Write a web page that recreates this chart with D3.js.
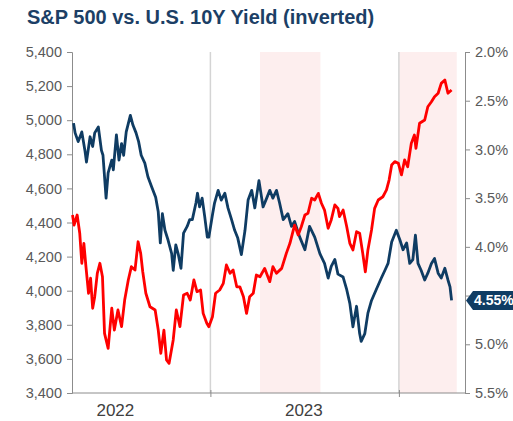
<!DOCTYPE html>
<html>
<head>
<meta charset="utf-8">
<title>S&amp;P 500 vs. U.S. 10Y Yield (inverted)</title>
<style>
  body { margin: 0; background: #fff; }
  svg { display: block; font-family: 'Liberation Sans', Arial, sans-serif; }
  .title { font-size: 20px; font-weight: bold; fill: #1c3f66; }
  .axis text { fill: #595959; font-size: 14.5px; }
  .axis path, .axis line { stroke: #8c8c8c; }
  .year { fill: #404040; font-size: 17px; }
</style>
</head>
<body>
<script src="https://d3js.org/d3.v7.min.js"></script>
<script>

// S&P 500 (left axis)
var spxDates = ["2022-04-09","2022-04-12","2022-04-18","2022-04-23","2022-04-27","2022-05-01","2022-05-05","2022-05-10","2022-05-14","2022-05-18",
  "2022-05-22","2022-05-27","2022-06-01","2022-06-06","2022-06-10","2022-06-17","2022-06-24","2022-06-29","2022-07-06","2022-07-13",
  "2022-07-19","2022-07-26","2022-08-01","2022-08-08","2022-08-14","2022-08-19","2022-08-23","2022-08-29","2022-09-06","2022-09-16",
  "2022-09-22","2022-09-27","2022-10-03","2022-10-08","2022-10-13","2022-10-21","2022-10-27","2022-11-03","2022-11-10","2022-11-17",
  "2022-11-23","2022-11-30","2022-12-06","2022-12-13","2022-12-18","2022-12-25","2022-12-29","2023-01-05","2023-01-11","2023-01-19",
  "2023-01-26","2023-02-01","2023-02-08","2023-02-14","2023-02-21","2023-02-27","2023-03-06","2023-03-12","2023-03-18","2023-03-25",
  "2023-03-31","2023-04-07","2023-04-16","2023-04-26","2023-05-02","2023-05-09","2023-05-19","2023-05-28","2023-06-04","2023-06-13",
  "2023-06-20","2023-06-26","2023-07-03","2023-07-09","2023-07-16","2023-07-22","2023-07-29","2023-08-04","2023-08-10","2023-08-17",
  "2023-08-23","2023-08-30","2023-09-05","2023-09-08","2023-09-15","2023-09-22","2023-09-28","2023-10-04","2023-10-11","2023-10-17",
  "2023-10-23","2023-10-28","2023-11-02","2023-11-09","2023-11-15","2023-11-22","2023-12-01","2023-12-08","2023-12-13","2023-12-18",
  "2023-12-24","2023-12-31","2024-01-06","2024-01-12","2024-01-18","2024-01-25","2024-01-31","2024-02-03","2024-02-10","2024-02-20",
  "2024-02-26","2024-03-04","2024-03-10","2024-03-17","2024-03-23","2024-03-30","2024-04-05","2024-04-12"];
var spxValues = [4444,4385,4444,4337,4161,4278,4141,3985,4073,3897,
  3965,4102,4161,4082,3750,3662,3897,3769,3887,3789,
  3945,4063,4141,4121,4287,4219,4111,3985,3906,3887,
  3769,3633,3769,3594,3574,3711,3887,3789,3975,3985,
  3945,4063,3994,4004,3867,3809,3789,3847,3985,4004,
  4043,4151,4102,4121,4023,4023,3965,3867,3965,3985,
  4092,4082,4131,4053,4141,4102,4131,4219,4278,4385,
  4327,4375,4444,4454,4542,4532,4571,4513,4473,4366,
  4415,4503,4483,4434,4473,4375,4278,4239,4346,4337,
  4219,4111,4239,4356,4483,4532,4551,4591,4649,4737,
  4757,4747,4679,4767,4727,4864,4913,4835,4982,5001,
  5079,5108,5138,5158,5216,5236,5158,5177];

// U.S. 10Y yield, % (right axis, inverted)
var yieldDates = ["2022-04-11","2022-04-14","2022-04-20","2022-04-27","2022-05-03","2022-05-06","2022-05-13","2022-05-18","2022-05-22","2022-05-29",
  "2022-06-04","2022-06-07","2022-06-13","2022-06-17","2022-06-24","2022-06-27","2022-07-03","2022-07-08","2022-07-13","2022-07-17",
  "2022-07-22","2022-07-30","2022-08-04","2022-08-10","2022-08-15","2022-08-20","2022-08-27","2022-09-02","2022-09-09","2022-09-17",
  "2022-09-22","2022-09-26","2022-09-30","2022-10-05","2022-10-11","2022-10-18","2022-10-21","2022-10-26","2022-10-31","2022-11-05",
  "2022-11-10","2022-11-17","2022-11-22","2022-11-27","2022-12-04","2022-12-07","2022-12-11","2022-12-16","2022-12-21","2022-12-26",
  "2022-12-29","2023-01-05","2023-01-09","2023-01-16","2023-01-22","2023-01-29","2023-02-04","2023-02-11","2023-02-17","2023-02-23",
  "2023-03-02","2023-03-09","2023-03-15","2023-03-22","2023-03-28","2023-04-05","2023-04-13","2023-04-20","2023-04-26","2023-05-02",
  "2023-05-09","2023-05-15","2023-05-22","2023-05-31","2023-06-07","2023-06-13","2023-06-23","2023-07-03","2023-07-12","2023-07-22",
  "2023-08-01","2023-08-10","2023-08-17","2023-08-23","2023-08-30","2023-09-05","2023-09-15","2023-09-22","2023-09-28","2023-10-04",
  "2023-10-11","2023-10-17","2023-10-20","2023-10-27","2023-11-02","2023-11-09","2023-11-18","2023-11-28","2023-12-05","2023-12-11",
  "2023-12-18","2023-12-27","2024-01-03","2024-01-09","2024-01-16","2024-01-22","2024-01-28","2024-02-02","2024-02-07","2024-02-13",
  "2024-02-20","2024-02-26","2024-03-04","2024-03-10","2024-03-17","2024-03-23","2024-03-30","2024-04-05","2024-04-09","2024-04-12"];
var yieldValues = [2.73,2.83,2.92,2.82,3.01,3.13,2.87,2.97,2.83,2.77,
  3.01,3.06,3.50,3.24,3.11,3.21,2.85,3.11,2.94,3.06,
  2.82,2.65,2.75,2.83,2.92,3.06,3.14,3.28,3.38,3.49,
  3.64,3.96,3.66,3.83,3.93,4.07,4.24,3.98,4.08,4.22,
  3.86,3.79,3.72,3.72,3.55,3.45,3.59,3.50,3.69,3.90,
  3.90,3.67,3.55,3.42,3.52,3.45,3.60,3.72,3.83,3.91,
  4.08,3.83,3.52,3.42,3.60,3.32,3.59,3.50,3.42,3.50,
  3.42,3.55,3.72,3.66,3.79,3.74,3.90,4.03,3.79,3.90,
  4.07,4.17,4.32,4.20,4.13,4.28,4.31,4.44,4.58,4.82,
  4.61,4.89,4.97,4.89,4.68,4.55,4.44,4.32,4.24,4.17,
  3.95,3.83,3.93,4.03,3.96,4.17,4.13,3.88,4.17,4.24,
  4.34,4.27,4.17,4.12,4.27,4.32,4.22,4.34,4.41,4.55];

var leftTicks = [3400,3600,3800,4000,4200,4400,4600,4800,5000,5200,5400];
var rightTicks = [2.0,2.5,3.0,3.5,4.0,4.5,5.0,5.5];
var yearLabels = ["2022","2023"];
var yearCenters = ["2022-07-01","2023-07-01"];
var yearBreaks = ["2023-01-01","2024-01-01"];
var shadeStarts = ["2023-04-07","2024-01-01"];
var shadeEnds = ["2023-08-02","2024-04-22"];

var margin = {top: 52, right: 48, bottom: 28, left: 72},
    width  = 513 - margin.left - margin.right,
    height = 421 - margin.top - margin.bottom;

var parseDate = d3.timeParse("%Y-%m-%d");

var spx = spxDates.map(function(d, i) { return {date: parseDate(d), value: spxValues[i]}; });
var yld = yieldDates.map(function(d, i) { return {date: parseDate(d), value: yieldValues[i]}; });

var x = d3.scaleTime()
    .domain([parseDate("2022-04-08"), parseDate("2024-05-08")])
    .range([0, width]);
var yLeft = d3.scaleLinear().domain([3400, 5400]).range([height, 0]);
var yRight = d3.scaleLinear().domain([2.0, 5.5]).range([0, height]); // inverted

var svg = d3.select("body").append("svg")
    .attr("width", 513)
    .attr("height", 421);

svg.append("text")
    .attr("class", "title")
    .attr("x", 27)
    .attr("y", 24)
    .text("S&P 500 vs. U.S. 10Y Yield (inverted)");

var chart = svg.append("g")
    .attr("transform", "translate(" + margin.left + "," + margin.top + ")");

// shaded periods
chart.selectAll(".shade")
    .data(shadeStarts)
    .enter().append("rect")
    .attr("class", "shade")
    .attr("x", function(d) { return x(parseDate(d)); })
    .attr("y", 0)
    .attr("width", function(d, i) { return x(parseDate(shadeEnds[i])) - x(parseDate(d)); })
    .attr("height", height)
    .attr("fill", "#fdeeee");

// year separators
chart.selectAll(".grid")
    .data(yearBreaks)
    .enter().append("line")
    .attr("class", "grid")
    .attr("x1", function(d) { return x(parseDate(d)); })
    .attr("x2", function(d) { return x(parseDate(d)); })
    .attr("y1", 0)
    .attr("y2", height)
    .attr("stroke", "#d4d4d4")
    .attr("stroke-width", 1.5);

// axes
chart.append("g")
    .attr("class", "axis")
    .call(d3.axisLeft(yLeft).tickValues(leftTicks).tickSize(5).tickPadding(5).tickFormat(d3.format(",")));

chart.append("g")
    .attr("class", "axis")
    .attr("transform", "translate(" + width + ",0)")
    .call(d3.axisRight(yRight).tickValues(rightTicks).tickSize(5).tickPadding(5)
      .tickFormat(function(d) { return d3.format(".1f")(d) + "%"; }));

var xAxis = chart.append("g")
    .attr("class", "axis")
    .attr("transform", "translate(0," + height + ")")
    .call(d3.axisBottom(x).tickValues(yearBreaks.map(parseDate)).tickSize(4).tickFormat(""));
xAxis.select(".domain").attr("d", "M0,0H" + width);
xAxis.selectAll(".tick line").attr("y1", -3);

chart.selectAll(".year")
    .data(yearLabels)
    .enter().append("text")
    .attr("class", "year")
    .attr("x", function(d, i) { return x(parseDate(yearCenters[i])); })
    .attr("y", height + 23)
    .attr("text-anchor", "middle")
    .text(function(d) { return d; });

// lines
var lineYield = d3.line()
    .x(function(d) { return x(d.date); })
    .y(function(d) { return yRight(d.value); });
var lineSpx = d3.line()
    .x(function(d) { return x(d.date); })
    .y(function(d) { return yLeft(d.value); });

chart.append("path")
    .datum(yld)
    .attr("d", lineYield)
    .attr("fill", "none")
    .attr("stroke", "#0f3c63")
    .attr("stroke-width", 2.8)
    .attr("stroke-linejoin", "round");

chart.append("path")
    .datum(spx)
    .attr("d", lineSpx)
    .attr("fill", "none")
    .attr("stroke", "#ff0000")
    .attr("stroke-width", 2.8)
    .attr("stroke-linejoin", "round");

// last value tag (sits over the 4.5% tick label, as in the original)
var last = yld[yld.length - 1];
var ty = yRight(last.value);
var tag = chart.append("g").attr("transform", "translate(" + (width + 1) + "," + ty + ")");
tag.append("path")
    .attr("d", "M0,0L7,-9.5H60V9.5H7Z")
    .attr("fill", "#0f3c63");
tag.append("text")
    .attr("x", 8)
    .attr("y", 5)
    .attr("fill", "#fff")
    .attr("font-size", "14px")
    .attr("font-weight", "bold")
    .text(d3.format(".2f")(last.value) + "%");

</script>
</body>
</html>
